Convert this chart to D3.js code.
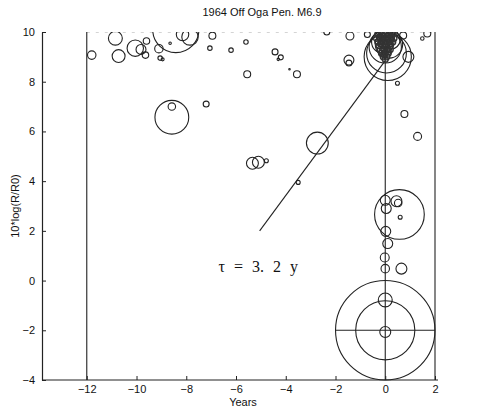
<!DOCTYPE html>
<html lang="en">
<head>
  <meta charset="UTF-8">
  <script src="https://d3js.org/d3.v7.min.js" charset="utf-8"></script>
  <title>1964 Off Oga Pen. M6.9</title>
  <style>
    body { margin: 0; background: #fff; }
    text { font-family: "Liberation Sans", Arial, sans-serif; fill: #111; }
  </style>
</head>
<body>
  <div class="chart"></div>
  <script>
    // events: years before main shock, 10*log(R/R0), circle radius (in y units)
    const years = [-11.8, -10.85, -10.72, -10.05, -9.82, -9.6, -9.64, -8.42, -9.1, -9.05, -8.95, -8.65, -7.85, -8.15,
      -6.95, -7.05, -6.2, -5.6, -5.55, -4.43, -4.2, -4.3, -3.85, -3.55, -2.35, -1.42, -1.46, -1.46,
      -8.58, -8.58, -7.2, -5.34, -5.1, -4.78, -2.73, -3.5,
      0.49, 0.77, 1.3, 0.93, -0.72, 0.72, 1.49, 1.69,
      0.1, 0.05, 0.0, 0.15, -0.1, 0.2,
      0.57, 0.45, 0.52, 0.0, 0.04, 0.6, 0.02, 0.1, -0.02, 0.0, 0.65,
      0, 0, 0, 0];
    const logRate = [9.07, 9.75, 9.03, 9.35, 9.3, 9.64, 9.07, 10.1, 9.33, 8.95, 8.9, 9.55, 9.8, 9.9,
      9.85, 9.35, 9.27, 9.6, 8.3, 9.2, 8.98, 8.9, 8.5, 8.3, 10.0, 9.84, 8.87, 8.75,
      6.57, 7.0, 7.1, 4.72, 4.76, 4.82, 5.53, 3.95,
      7.94, 6.7, 5.8, 9.0, 9.9, 9.86, 9.74, 9.94,
      9.0, 9.15, 9.4, 9.5, 9.6, 9.7,
      2.66, 3.19, 3.12, 3.23, 2.9, 2.55, 1.98, 1.49, 0.93, 0.48, 0.48,
      -2, -2, -0.78, -2.07];
    const size = [0.17, 0.28, 0.26, 0.33, 0.2, 0.13, 0.13, 0.93, 0.17, 0.09, 0.06, 0.05, 0.33, 0.25,
      0.14, 0.09, 0.09, 0.09, 0.14, 0.12, 0.1, 0.05, 0.03, 0.14, 0.12, 0.16, 0.2, 0.12,
      0.68, 0.15, 0.12, 0.24, 0.24, 0.08, 0.44, 0.08,
      0.08, 0.14, 0.16, 0.22, 0.12, 0.14, 0.07, 0.14,
      0.95, 0.8, 0.65, 0.55, 0.45, 0.4,
      1.0, 0.22, 0.15, 0.2, 0.2, 0.08, 0.2, 0.2, 0.18, 0.17, 0.22,
      2.0, 1.19, 0.28, 0.22];

    // dense swarm of small events just before the main shock
    const swarmYears = [-0.3, -0.15, 0, 0.15, 0.3, -0.35, -0.2, -0.05, 0.1, 0.25, 0.35, -0.3, -0.15, 0, 0.15, 0.3,
      -0.25, -0.1, 0.05, 0.2, -0.2, -0.05, 0.1, 0.2, -0.15, 0, 0.12, -0.08, 0.06, 0,
      -0.22, -0.08, 0.08, 0.22, -0.18, 0.02, 0.18, -0.12, 0.12, -0.04];
    const swarmRate = [9.9, 9.9, 9.9, 9.9, 9.9, 9.75, 9.75, 9.75, 9.75, 9.75, 9.75, 9.6, 9.6, 9.6, 9.6, 9.6,
      9.45, 9.45, 9.45, 9.45, 9.3, 9.3, 9.3, 9.3, 9.15, 9.15, 9.15, 9.0, 9.0, 8.9,
      9.82, 9.82, 9.82, 9.82, 9.52, 9.52, 9.52, 9.22, 9.22, 9.07];
    const swarmSize = 0.12;

    // reference lines: [x1, y1, x2, y2]
    const guides = [[-12, -4, -12, 10], [2, -4, 2, 10], [0, -4, 0, 9], [-2, -2, 2, -2], [-5.05, 2.0, 0, 8.85]];
    const topLine = [-12, 10, 2, 10];

    const xTicks = [-12, -10, -8, -6, -4, -2, 0, 2];
    const yTicks = [-4, -2, 0, 2, 4, 6, 8, 10];

    const width = 482, height = 407;
    const margin = { left: 42, right: 47, top: 32, bottom: 27 };

    const svg = d3.select('.chart').append('svg').attr('width', width).attr('height', height);

    const x = d3.scaleLinear().domain([-13.8, 2]).range([margin.left, width - margin.right]);
    const y = d3.scaleLinear().domain([-4, 10]).range([height - margin.bottom, margin.top]);
    const unit = y(0) - y(1);

    svg.append('clipPath').attr('id', 'plot')
      .append('rect')
      .attr('x', margin.left).attr('y', y(10))
      .attr('width', width - margin.left).attr('height', y(-4) - y(10) + 1);

    const g = svg.append('g').attr('clip-path', 'url(#plot)');

    g.append('line')
      .attr('x1', x(topLine[0])).attr('y1', y(topLine[1]))
      .attr('x2', x(topLine[2])).attr('y2', y(topLine[3]))
      .attr('stroke', '#aaa').attr('stroke-width', 1).attr('stroke-dasharray', '3,6');

    g.selectAll('.guide').data(guides).enter().append('line')
      .attr('class', 'guide')
      .attr('x1', d => x(d[0])).attr('y1', d => y(d[1]))
      .attr('x2', d => x(d[2])).attr('y2', d => y(d[3]))
      .attr('stroke', '#222').attr('stroke-width', 1.1);

    const events = years.map((t, i) => ({ t: t, v: logRate[i], r: size[i] }));
    g.selectAll('.event').data(events).enter().append('circle')
      .attr('class', 'event')
      .attr('cx', d => x(d.t)).attr('cy', d => y(d.v)).attr('r', d => d.r * unit)
      .attr('fill', 'none').attr('stroke', '#222').attr('stroke-width', 1.1);

    const swarm = swarmYears.map((t, i) => ({ t: t, v: swarmRate[i] }));
    g.selectAll('.swarm').data(swarm).enter().append('circle')
      .attr('class', 'swarm')
      .attr('cx', d => x(d.t)).attr('cy', d => y(d.v)).attr('r', swarmSize * unit)
      .attr('fill', 'none').attr('stroke', '#333').attr('stroke-width', 1.4);

    // axes with inward ticks
    const fmt = d => d < 0 ? '\u2212' + Math.abs(d) : String(d);
    const xAxis = svg.append('g').attr('transform', `translate(0,${y(-4)})`)
      .call(d3.axisBottom(x).tickValues(xTicks).tickSize(-4).tickPadding(5).tickFormat(fmt).tickSizeOuter(0));
    const yAxis = svg.append('g').attr('transform', `translate(${margin.left},0)`)
      .call(d3.axisLeft(y).tickValues(yTicks).tickSize(-4).tickPadding(7).tickFormat(fmt).tickSizeOuter(0));
    [xAxis, yAxis].forEach(a => {
      a.select('.domain').attr('stroke', '#222').attr('stroke-width', 1.2);
      a.selectAll('.tick line').attr('stroke', '#222');
      a.selectAll('text').attr('font-size', 11).attr('fill', '#111')
        .attr('font-family', '"Liberation Sans", Arial, sans-serif');
    });
    xAxis.select('.domain').attr('d', `M${margin.left},0H${x(2) + 3}`);

    svg.append('text').attr('x', 262).attr('y', 16).attr('text-anchor', 'middle')
      .attr('font-size', 11).text('1964 Off Oga Pen. M6.9');
    svg.append('text').attr('x', 243).attr('y', 406).attr('text-anchor', 'middle')
      .attr('font-size', 11).text('Years');
    svg.append('text').attr('transform', 'translate(19,206) rotate(-90)').attr('text-anchor', 'middle')
      .attr('font-size', 11).text('10*log(R/R0)');

    svg.append('text').attr('x', x(-6.7)).attr('y', y(0.35))
      .attr('font-size', 16).text('\u03c4 = 3. 2 y')
      .style('font-family', '"Liberation Serif", serif').style('word-spacing', '5px');
  </script>
</body>
</html>
